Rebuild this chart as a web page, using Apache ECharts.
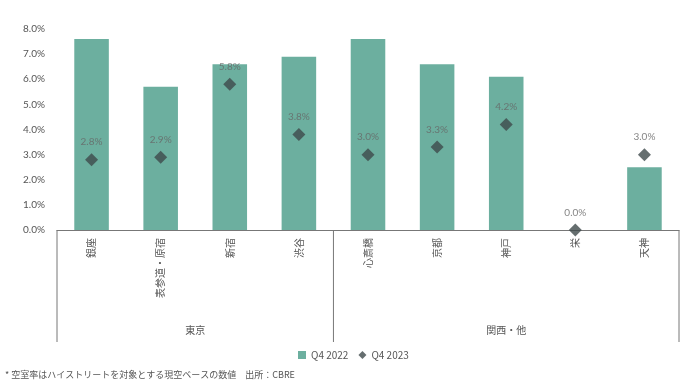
<!DOCTYPE html>
<html><head><meta charset="utf-8">
<script src="https://cdn.jsdelivr.net/npm/echarts@6/dist/echarts.min.js"></script>
<style>html,body{margin:0;padding:0;background:#fff}#c{width:685px;height:383px}</style>
</head><body><div id="c"></div>
<script>
const categories = ['銀座','表参道・原宿','新宿','渋谷','心斎橋','京都','神戸','栄','天神'];
const q4_2022 = [7.6, 5.7, 6.6, 6.9, 7.6, 6.6, 6.1, 0.0, 2.5];
const q4_2023 = [2.8, 2.9, 5.8, 3.8, 3.0, 3.3, 4.2, 0.0, 3.0];
const groups = [{name:'東京', from:0, to:3}, {name:'関西・他', from:4, to:8}];
const yTicks = [0,1,2,3,4,5,6,7,8];
const footnote = '* 空室率はハイストリートを対象とする現空ベースの数値　出所：CBRE';

const FONT = '"Noto Sans CJK JP","Noto Sans",sans-serif';
const chart = echarts.init(document.getElementById('c'), null, {renderer:'canvas'});
const option = {
  animation:false,
  grid:{left:57, right:6, top:29, bottom:153},
  legend:{
    left:293, top:345, itemGap:10, itemWidth:8, itemHeight:8,
    textStyle:{color:'#555', fontSize:10, fontFamily:FONT},
    data:[{name:'Q4 2022', icon:'rect'},{name:'Q4 2023', icon:'diamond'}]
  },
  xAxis:{
    type:'category', data:categories,
    axisLine:{lineStyle:{color:'#777', width:1}},
    axisTick:{show:false},
    axisLabel:{rotate:90, color:'#555', fontSize:10, fontFamily:FONT, margin:8, interval:0}
  },
  yAxis:{
    type:'value', min:yTicks[0], max:yTicks[yTicks.length-1], interval:1,
    splitLine:{show:false}, axisLine:{show:false}, axisTick:{show:false},
    axisLabel:{color:'#555', fontSize:10, fontFamily:'Lato, "Noto Sans", sans-serif', margin:12,
      formatter:v=>v.toFixed(1)+'%'}
  },
  series:[
    {name:'Q4 2022', type:'bar', data:q4_2022, barWidth:'50%',
     itemStyle:{color:'#6caf9f'}},
    {name:'Q4 2023', type:'scatter', data:q4_2023, symbol:'diamond', symbolSize:13,
     itemStyle:{color:'#3e4a4b'}, z:5,
     label:{show:true, position:'top', distance:6, color:'#666', fontSize:10,
       fontFamily:'Lato, "Noto Sans", sans-serif', formatter:p=>p.value[1]!==undefined?p.value[1].toFixed(1)+'%':Number(p.value).toFixed(1)+'%'}}
  ]
};
chart.setOption(option);

// group box below the axis, positioned from the category scale
const half = (chart.convertToPixel({xAxisIndex:0}, categories[1]) - chart.convertToPixel({xAxisIndex:0}, categories[0]))/2;
const y0 = chart.convertToPixel({yAxisIndex:0}, 0);
const yEnd = y0 + 112;
const g = [];
groups.forEach((gr, i) => {
  const xl = chart.convertToPixel({xAxisIndex:0}, categories[gr.from]) - half;
  const xr = chart.convertToPixel({xAxisIndex:0}, categories[gr.to]) + half;
  if (i === 0) g.push({type:'line', shape:{x1:xl,y1:y0,x2:xl,y2:yEnd}, style:{stroke:'#777', lineWidth:1}});
  g.push({type:'line', shape:{x1:xr,y1:y0,x2:xr,y2:yEnd}, style:{stroke:'#777', lineWidth:1}});
  g.push({type:'text', x:(xl+xr)/2, y:y0+100, style:{text:gr.name, fill:'#555', fontSize:10, fontFamily:FONT, align:'center', verticalAlign:'middle'}});
});
g.push({type:'text', left:5, top:370, style:{text:footnote, fill:'#555', fontSize:9, fontFamily:FONT}});
chart.setOption({graphic:g});
</script></body></html>
